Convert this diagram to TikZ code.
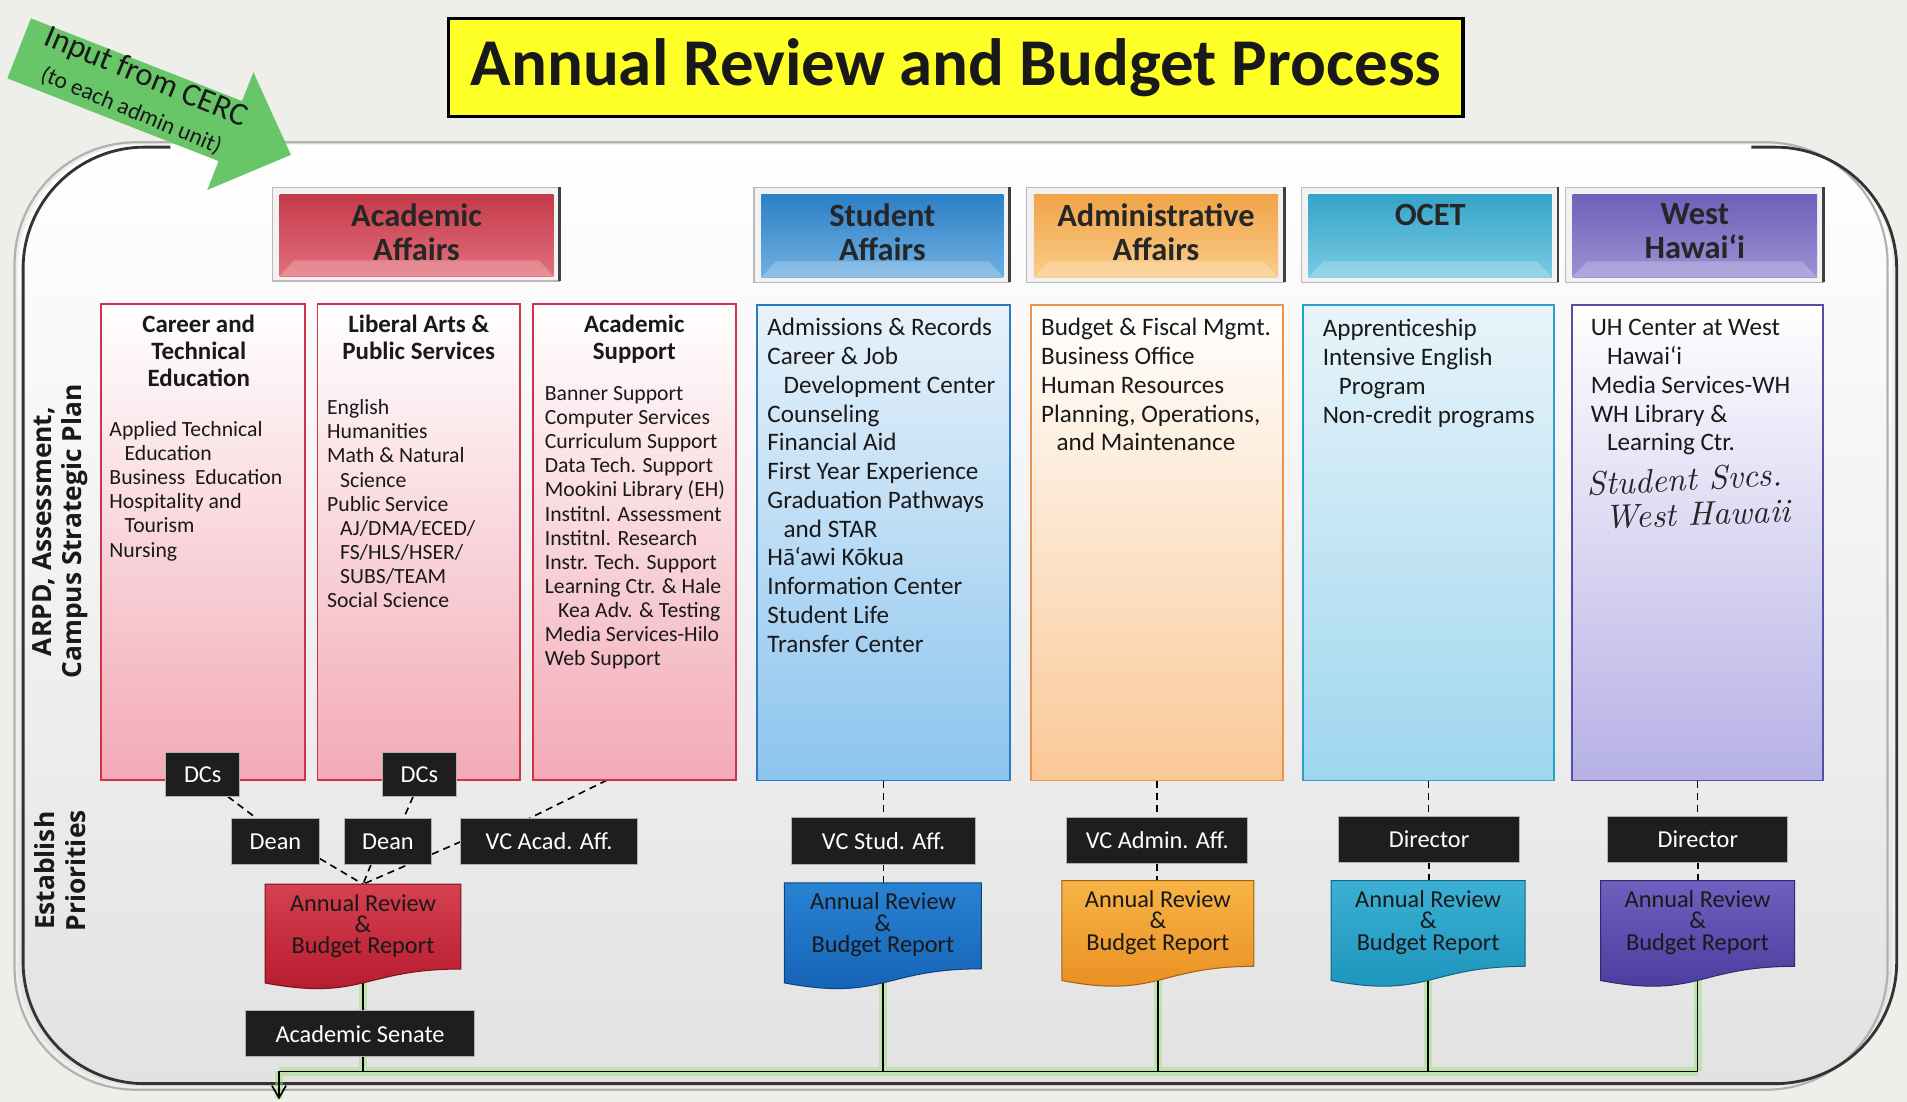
\documentclass[tikz,border=0pt]{standalone}
\usepackage{fontspec}
\setmainfont{Carlito}
\newfontfamily\osans{Open Sans}
\newfontfamily\handfont{lmroman10-italic.otf}
\usetikzlibrary{arrows.meta,calc}
\pgfdeclarelayer{back}
\pgfdeclarelayer{conn}
\pgfsetlayers{back,conn,main}

\definecolor{bgout}{RGB}{238,238,234}
\definecolor{bgin}{RGB}{226,226,226}
\definecolor{ttl}{RGB}{255,255,40}
\definecolor{arr}{RGB}{104,198,104}
\definecolor{aaTop}{RGB}{196,58,74}\definecolor{aaBot}{RGB}{226,112,124}
\definecolor{saTop}{RGB}{44,128,198}\definecolor{saBot}{RGB}{112,176,226}
\definecolor{adTop}{RGB}{240,164,72}\definecolor{adBot}{RGB}{250,204,136}
\definecolor{ocTop}{RGB}{52,164,200}\definecolor{ocBot}{RGB}{122,202,226}
\definecolor{whTop}{RGB}{112,96,186}\definecolor{whBot}{RGB}{158,144,212}
\definecolor{aaLine}{RGB}{204,52,74}\definecolor{aaFill}{RGB}{242,170,182}
\definecolor{saLine}{RGB}{42,122,192}\definecolor{saFill}{RGB}{140,196,238}\definecolor{saFillT}{RGB}{232,242,251}
\definecolor{adLine}{RGB}{236,146,74}\definecolor{adFill}{RGB}{250,200,150}
\definecolor{ocLine}{RGB}{40,160,200}\definecolor{ocFill}{RGB}{158,214,238}\definecolor{ocFillT}{RGB}{232,244,250}
\definecolor{whLine}{RGB}{84,78,164}\definecolor{whFill}{RGB}{182,176,230}
\definecolor{rAT}{RGB}{214,64,80}\definecolor{rAB}{RGB}{178,24,42}
\definecolor{rST}{RGB}{40,130,210}\definecolor{rSB}{RGB}{20,96,180}
\definecolor{rDT}{RGB}{248,180,70}\definecolor{rDB}{RGB}{232,140,30}
\definecolor{rOT}{RGB}{60,176,212}\definecolor{rOB}{RGB}{26,146,186}
\definecolor{rWT}{RGB}{110,96,190}\definecolor{rWB}{RGB}{72,58,156}
\definecolor{blk}{RGB}{30,30,30}
\definecolor{glow}{RGB}{150,225,110}

\tikzset{
  sz/.style 2 args={minimum width={(#1)*0.6pt}, minimum height={(#2)*0.6pt}},
  cbox/.style={anchor=north west, line width=0.9pt},
  ctitle/.style={anchor=north, align=center, font=\bfseries\fontsize{12.3}{13.4}\selectfont, text=black!90},
  slist/.style={anchor=north west, align=left, font=\fontsize{10.7}{11.9}\selectfont, text=black!90},
  blist/.style={anchor=north west, align=left, font=\fontsize{12.4}{14.2}\selectfont, text=black!90},
  blkbox/.style={fill=blk, draw=gray!60, line width=0.5pt, text=white, font=\fontsize{12}{14}\selectfont},
  rtext/.style={anchor=north, align=center, font=\fontsize{12}{10.5}\selectfont, text=black!90},
  dashline/.style={draw=black, line width=0.8pt, dash pattern=on 3.5pt off 2.5pt},
  glowline/.style={draw=glow, line width=4pt, opacity=0.45},
  conline/.style={draw=black, line width=0.8pt},
  sidelab/.style={rotate=90, align=center, font=\osans\bfseries\fontsize{13}{15}\selectfont, text=black!90},
}

\newcommand\hdrbox[8]{%
  \node[anchor=north west, draw=gray!55, fill=gray!10, line width=0.6pt, sz={#4-#2+11}{#5-#3+10}] (#1-f) at ({#2-6},{#3-6}) {};
  \node[anchor=north west, top color=#6, bottom color=#7, sz={#4-#2}{#5-#3}] (#1) at (#2,#3) {};
  \fill[white, opacity=0.22] (#2,#5) -- ({#2+12},{#5-13}) -- ({#4-12},{#5-13}) -- (#4,#5) -- cycle;
  \draw[black!75, line width=1.4pt] (#1-f.north east) -- (#1-f.south east);
  \node[anchor=north, yshift=-4.6pt, align=center, font=\bfseries\fontsize{16}{16.5}\selectfont, text=black!85] (#1-t) at (#1.north) {#8};
}

\newcommand\rptshape[8]{%
  \shade[top color=#6, bottom color=#7, draw=#8, line width=0.5pt] (#2,#3) -- ({#2+#4},#3) -- ({#2+#4},{#3+0.802*#5}) .. controls ({#2+0.5*#4},{#3+0.802*#5}) and ({#2+0.5*#4},{#3+1.1075*#5}) .. (#2,{#3+0.934*#5}) -- cycle;
  \node[anchor=north west, sz={#4}{0.8*#5}] (#1) at (#2,#3) {};
  \coordinate (#1-b) at ({#2+0.5*#4},{#3+0.933*#5});
  \node[rtext] (#1-t) at ([yshift=-5pt]#1.north) {Annual Review\\\&\\Budget Report};
}

\begin{document}
\begin{tikzpicture}[x=0.6pt,y=-0.6pt, every node/.style={inner sep=0pt,outer sep=0pt}]
\useasboundingbox (0,0) rectangle (1568,906);

\begin{pgfonlayer}{back}
  \fill[bgout] (0,0) rectangle (1568,906);
  \shade[top color=white, bottom color=bgin, rounded corners=60pt] (15,119) rectangle (1556,893);
  \draw[gray!60, line width=1.1pt, rounded corners=60pt] (12,117) rectangle (1552,896);
  \draw[black!80, line width=1.4pt, rounded corners=60pt] (1440,121) -- (1559.5,121) -- (1559.5,891) -- (19,891) -- (19,121) -- (140,121);
\end{pgfonlayer}

% title
\node[draw=black, line width=1.6pt, fill=ttl, sz={834}{81}, font=\bfseries\fontsize{33}{40}\selectfont, text=black!90] (title) at (786,55.5) {Annual Review and Budget Process};

% green input arrow
\begin{scope}[shift={(15.75,39.75)}, rotate=-21.4]
  \fill[arr] (0,-26.5) -- (186.5,-26.5) -- (186.5,-52) -- (240,0) -- (186.5,52) -- (186.5,26.5) -- (0,26.5) -- cycle;
\end{scope}
\node[rotate=-22.5, font=\fontsize{16}{18}\selectfont, text=black!90] (cerc1) at (120,64) {Input from CERC};
\node[rotate=-22.5, font=\fontsize{11.6}{13}\selectfont, text=black!90] (cerc2) at (108,91) {(to each admin unit)};

% side labels
\node[sidelab] (lab1) at (49.5,437) {ARPD, Assessment,\\Campus Strategic Plan};
\node[sidelab] (lab2) at (49.5,716) {Establish\\Priorities};

% headers
\hdrbox{hAA}{230}{160}{455}{227}{aaTop}{aaBot}{Academic\\Affairs}
\hdrbox{hSA}{626}{160}{825}{228}{saTop}{saBot}{Student\\Affairs}
\hdrbox{hAD}{850}{160}{1051}{228}{adTop}{adBot}{Administrative\\Affairs}
\hdrbox{hOC}{1076}{160}{1276}{228}{ocTop}{ocBot}{OCET}
\hdrbox{hWH}{1293}{160}{1494}{228}{whTop}{whBot}{West\\Hawai‘i}

% content boxes
\node[cbox, draw=aaLine, top color=white, bottom color=aaFill, sz={167.5}{391.5}] (cte) at (83,250) {};
\node[cbox, draw=aaLine, top color=white, bottom color=aaFill, sz={166.6}{391.5}] (laps) at (261,250) {};
\node[cbox, draw=aaLine, top color=white, bottom color=aaFill, sz={167}{391.5}] (as) at (438,250) {};
\node[cbox, draw=saLine, top color=saFillT, bottom color=saFill, sz={207.7}{391}] (sa) at (622.6,250.8) {};
\node[cbox, draw=adLine, top color=white, bottom color=adFill, sz={207}{391}] (ad) at (847.6,250.8) {};
\node[cbox, draw=ocLine, top color=ocFillT, bottom color=ocFill, sz={206}{391}] (oc) at (1071.4,250.8) {};
\node[cbox, draw=whLine, top color=white, bottom color=whFill, sz={206.7}{391}] (wh) at (1292.4,250.8) {};

% column texts
\node[ctitle] (cte-t) at ([xshift=-2pt,yshift=-5.3pt]cte.north) {Career and\\Technical\\Education};
\node[slist] (cte-l) at (90,346.5) {Applied Technical\\\hspace*{7.5pt}Education\\Business~ Education\\Hospitality and\\\hspace*{7.5pt}Tourism\\Nursing};
\node[ctitle] (laps-t) at ([yshift=-5.3pt]laps.north) {Liberal Arts \&\\Public Services};
\node[slist] (laps-l) at (269,328.6) {English\\Humanities\\Math \& Natural\\\hspace*{6.4pt}Science\\Public Service\\\hspace*{6.4pt}AJ/DMA/ECED/\\\hspace*{6.4pt}FS/HLS/HSER/\\\hspace*{6.4pt}SUBS/TEAM\\Social Science};
\node[ctitle] (as-t) at ([yshift=-5.3pt]as.north) {Academic\\Support};
\node[slist] (as-l) at (448,317.7) {Banner Support\\Computer Services\\Curriculum Support\\Data Tech. Support\\Mookini Library (EH)\\Institnl. Assessment\\Institnl. Research\\Instr. Tech. Support\\Learning Ctr. \& Hale\\\hspace*{6.6pt}Kea Adv. \& Testing\\Media Services-Hilo\\Web Support};
\node[blist] (sa-l) at (631,261.7) {Admissions \& Records\\Career \& Job\\\hspace*{8pt}Development Center\\Counseling\\Financial Aid\\First Year Experience\\Graduation Pathways\\\hspace*{8pt}and STAR\\Hā‘awi Kōkua\\Information Center\\Student Life\\Transfer Center};
\node[blist] (ad-l) at (856,261.7) {Budget \& Fiscal Mgmt.\\Business Office\\Human Resources\\Planning, Operations,\\\hspace*{7.7pt}and Maintenance};
\node[blist] (oc-l) at (1087.6,262.7) {Apprenticeship\\Intensive English\\\hspace*{8pt}Program\\Non-credit programs};
\node[blist] (wh-l) at (1308,262.7) {UH Center at West\\\hspace*{8pt}Hawai‘i\\Media Services-WH\\WH Library \&\\\hspace*{8pt}Learning Ctr.};
\node[font=\handfont\fontsize{16.5}{20}\selectfont, rotate=3, text=black!85] (hw1) at (1385,394) {Student Svcs.};
\node[font=\handfont\fontsize{16.5}{20}\selectfont, rotate=2, text=black!85] (hw2) at (1396,423) {West Hawaii};

% black boxes
\node[blkbox, sz={60.5}{36}] (dc1) at (166.7,637) {DCs};
\node[blkbox, sz={60.5}{36}] (dc2) at (344.8,637) {DCs};
\node[blkbox, sz={73}{38}] (dean1) at (226.5,692) {Dean};
\node[blkbox, sz={72}{38}] (dean2) at (319,692) {Dean};
\node[blkbox, sz={145}{38}] (vca) at (451.5,692) {VC Acad. Aff.};
\node[blkbox, sz={151}{38}] (vcs) at (726.5,691.5) {VC Stud. Aff.};
\node[blkbox, sz={149}{38}] (vcad) at (951.5,691) {VC Admin. Aff.};
\node[blkbox, sz={149}{38}] (diro) at (1175,690) {Director};
\node[blkbox, sz={148}{38}] (dirw) at (1396,690) {Director};
\node[blkbox, sz={188}{38}] (sen) at (296,850) {Academic Senate};

% reports
\rptshape{rpA}{218}{727}{161}{87}{rAT}{rAB}{rAB!70!black}
\rptshape{rpS}{645}{726}{162}{88}{rST}{rSB}{rSB!70!black}
\rptshape{rpD}{873}{724}{158}{88}{rDT}{rDB}{rDB!70!black}
\rptshape{rpO}{1094.5}{724}{159.5}{88}{rOT}{rOB}{rOB!70!black}
\rptshape{rpW}{1316}{724}{159.6}{88}{rWT}{rWB}{rWB!70!black}

\coordinate (busL) at (229.4,881);
\coordinate (busR) at (rpW-b |- busL);
\coordinate (tip) at (229.4,904);

\begin{pgfonlayer}{conn}
  % dashed connectors
  \draw[dashline] (dc1.-41) -- (dean1.129);
  \draw[dashline] (dc2.-106) -- (dean2.56);
  \draw[dashline] ([xshift=-13.5pt]as.south) -- ([xshift=-9.9pt]vca.north);
  \draw[dashline] (dean1.-21.5) -- (rpA.north);
  \draw[dashline] ([xshift=-8.4pt]dean2.south) -- (rpA.north);
  \draw[dashline] (vca.west) -- (rpA.north);
  \draw[dashline] (sa.south) -- (sa.south |- vcs.north);
  \draw[dashline] (vcs.south) -- (vcs.south |- rpS.north);
  \draw[dashline] (ad.south) -- (ad.south |- vcad.north);
  \draw[dashline] (vcad.south) -- (vcad.south |- rpD.north);
  \draw[dashline] (oc.south) -- (oc.south |- diro.north);
  \draw[dashline] (diro.south) -- (diro.south |- rpO.north);
  \draw[dashline] (wh.south) -- (wh.south |- dirw.north);
  \draw[dashline] (dirw.south) -- (dirw.south |- rpW.north);
  % glowing solid connectors
  \draw[glowline] (rpA-b) -- (rpA-b |- sen.north) (sen.south -| rpA-b) -- (rpA-b |- busL)
     (busL) -- (busR) (busL) -- (tip)
     (rpS-b) -- (rpS-b |- busL) (rpD-b) -- (rpD-b |- busL)
     (rpO-b) -- (rpO-b |- busL) (rpW-b) -- (busR);
  \draw[conline] (rpA-b) -- (rpA-b |- sen.north) (sen.south -| rpA-b) -- (rpA-b |- busL)
     (busL) -- (busR)
     (rpS-b) -- (rpS-b |- busL) (rpD-b) -- (rpD-b |- busL)
     (rpO-b) -- (rpO-b |- busL) (rpW-b) -- (busR);
  \draw[conline, -{Straight Barb[length=6pt,width=7pt]}] (busL) -- (tip);
\end{pgfonlayer}
\end{tikzpicture}
\end{document}
